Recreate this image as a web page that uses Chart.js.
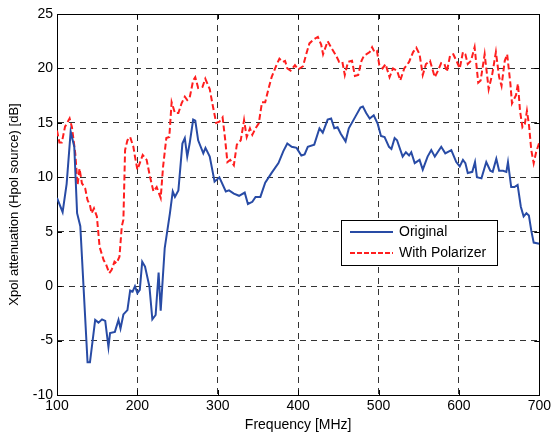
<!DOCTYPE html>
<html>
<head>
<meta charset="utf-8">
<script src="https://cdn.jsdelivr.net/npm/chart.js@4.4.1/dist/chart.umd.min.js"></script>
<style>
  html, body { margin: 0; padding: 0; background: #fff; }
  #wrap { width: 554px; height: 437px; position: relative; }
</style>
</head>
<body>
<div id="wrap"><canvas id="xpol-chart" width="554" height="437"></canvas></div>
<script>
// Original (no polarizer) curve
const origFreq = [100, 107, 112, 117, 121.5, 125, 129, 138, 141, 147.5, 151.6, 156, 160, 164, 166, 172, 176.5, 179, 182.6, 187.6,
    191, 194, 197, 200, 203, 206, 209.5, 215, 218.6, 222.7, 226.4, 229, 234, 240.5, 244, 246.7, 251, 256, 259, 262,
    265, 269.4, 272, 275.6, 282, 284.7, 290, 296, 302, 310, 314, 320, 326.5, 333.5, 337.5, 343, 347, 353, 359, 367,
    375.5, 381.6, 386.5, 392, 398, 404, 408, 412, 420, 426.5, 430.6, 436.7, 441, 445, 449, 453, 459, 463, 471, 477.5,
    480.5, 484.6, 489, 494, 499, 503, 507.5, 513, 516, 520, 523, 530, 534, 538, 540.7, 545, 551, 555, 561, 565.6,
    570, 578, 583, 590.5, 596.7, 601, 605, 608, 611, 616.6, 620, 622.4, 628, 634, 639, 642, 646.5, 650, 655, 659,
    661, 665, 669, 673, 677, 680.5, 684, 687, 690, 693, 700];
const origValues = [8.1, 6.8, 9.4, 14.2, 12.8, 6.7, 5.5, -7.0, -7.0, -3.1, -3.35, -3.05, -3.2, -5.6, -4.3, -4.2, -3.1, -3.9, -2.6, -2.2,
    -0.4, -0.5, 0.0, -0.65, -0.35, 2.25, 1.8, -0.05, -3.05, -2.65, 1.25, -2.25, 3.5, 6.7, 8.7, 8.2, 8.8, 13.1, 13.6, 11.9,
    13.1, 15.3, 15.2, 13.4, 12.2, 12.7, 11.9, 9.6, 10.0, 8.7, 8.8, 8.5, 8.3, 8.6, 7.55, 7.75, 8.2, 8.2, 9.5, 10.4,
    11.3, 12.4, 13.1, 12.8, 12.7, 12.0, 12.1, 12.8, 13.0, 14.5, 14.1, 15.3, 15.4, 14.5, 14.6, 14.0, 13.3, 14.5, 15.55, 16.4,
    16.5, 15.9, 15.4, 15.7, 14.9, 13.8, 13.7, 12.8, 12.6, 13.6, 13.4, 11.9, 12.3, 12.0, 12.3, 11.3, 11.6, 10.7, 11.9, 12.5,
    11.9, 12.8, 12.2, 12.5, 11.4, 11.0, 11.6, 11.3, 10.4, 10.5, 11.4, 10.0, 9.9, 11.4, 10.6, 10.5, 11.7, 10.6, 10.6, 10.5,
    11.4, 9.1, 9.1, 9.3, 7.3, 6.4, 6.7, 6.5, 5.1, 4.0, 3.9];

// With polarizer curve
const polFreq = [100, 103, 106, 110, 115.7, 118.6, 122.7, 125.6, 128, 131, 135, 138, 141, 143, 146, 149.6, 153, 158, 161, 165,
    168, 171.5, 174, 177.7, 180.6, 182.6, 184.7, 187.6, 191, 195, 197, 200, 203, 206.6, 211.5, 215.7, 220, 224, 229, 232,
    236, 239.7, 242.6, 246.7, 251, 255, 259, 262, 265, 269.4, 272, 275.6, 281, 284.5, 290, 294, 298, 302, 306, 309,
    312, 315.5, 320, 323.7, 328.6, 332.7, 336, 340, 343, 347, 351, 355, 359, 363, 367, 373.5, 376.7, 381, 383.7, 386.5,
    390.6, 396, 400, 406, 410, 414, 420, 424.5, 428.6, 431, 436.7, 442, 447, 451, 455, 458, 462, 467, 470.6, 474.7,
    478.8, 482, 484.6, 489, 492, 495, 498, 501, 505, 508.7, 513.7, 518, 523, 527, 532, 538, 543, 547, 551, 555,
    559, 564, 570, 574, 578, 582, 585, 589, 593, 597.5, 601, 605, 608, 611, 615, 619.5, 624, 627, 632, 637,
    641.5, 646, 650, 653, 657, 660, 664, 666, 671, 673.4, 676, 679, 682, 684.6, 687, 690, 693, 696, 700];
const polValues = [14.3, 13.2, 13.2, 14.65, 15.4, 14.6, 12.2, 9.3, 10.8, 9.45, 9.0, 7.9, 7.45, 6.7, 7.15, 6.4, 3.6, 2.4, 2.0, 1.2,
    1.5, 2.25, 2.1, 2.7, 5.5, 6.1, 12.5, 13.4, 13.7, 12.8, 11.9, 10.7, 11.3, 12.05, 11.6, 10.05, 8.7, 9.1, 8.1, 11.0,
    13.6, 13.7, 16.9, 15.9, 15.9, 16.8, 17.4, 17.1, 17.3, 18.9, 19.2, 18.2, 18.3, 19.05, 18.1, 16.5, 15.0, 15.1, 15.5, 13.6,
    11.4, 11.6, 11.1, 13.0, 13.4, 15.25, 13.7, 14.5, 13.9, 14.5, 14.95, 16.9, 16.9, 18.1, 19.2, 20.4, 20.9, 20.6, 20.7, 20.0,
    19.8, 20.3, 19.9, 20.2, 21.3, 22.3, 22.7, 22.9, 22.2, 21.3, 22.5, 21.8, 21.2, 20.6, 20.6, 19.4, 20.6, 20.7, 19.3, 19.4,
    20.7, 21.2, 21.3, 21.5, 21.95, 21.5, 21.6, 20.3, 20.0, 20.4, 19.2, 20.0, 19.8, 18.9, 20.0, 20.6, 21.5, 21.9, 21.3, 19.4,
    20.4, 20.7, 19.2, 19.8, 20.5, 20.4, 19.7, 21.2, 21.3, 20.6, 20.0, 21.5, 21.3, 20.4, 20.7, 21.95, 18.7, 18.9, 21.3, 18.1,
    19.5, 21.5, 19.2, 18.4, 20.7, 21.3, 18.6, 16.8, 17.55, 18.6, 16.1, 14.6, 14.9, 16.1, 14.9, 12.5, 11.3, 12.3, 13.2];

const xTicks = [100, 200, 300, 400, 500, 600, 700];
const yTicks = [-10, -5, 0, 5, 10, 15, 20, 25];
const seriesNames = ['Original', 'With Polarizer'];

const blue = 'rgb(40, 75, 165)';
const red = 'rgb(255, 30, 30)';
const gridColor = '#333';
const fontFamily = 'Arial, "Liberation Sans", sans-serif';

function toPoints(xs, ys) {
    return xs.map((x, i) => ({ x: x, y: ys[i] }));
}

// matlab-style legend box inside the axes
const boxLegend = {
    id: 'boxLegend',
    afterDraw(chart) {
        const ctx = chart.ctx;
        const x0 = 341, y0 = 220, w = 156, h = 45;
        ctx.save();
        ctx.fillStyle = '#fff';
        ctx.fillRect(x0, y0, w, h);
        ctx.strokeStyle = '#000';
        ctx.lineWidth = 1;
        ctx.strokeRect(x0 + 0.5, y0 + 0.5, w, h);
        const rows = [
            { name: seriesNames[0], color: blue, dash: [] },
            { name: seriesNames[1], color: red, dash: [5, 2] }
        ];
        ctx.font = '14px ' + fontFamily;
        ctx.textBaseline = 'middle';
        rows.forEach((r, i) => {
            const yy = y0 + 12 + i * 21;
            ctx.beginPath();
            ctx.setLineDash(r.dash);
            ctx.strokeStyle = r.color;
            ctx.lineWidth = 2;
            ctx.moveTo(x0 + 9, yy);
            ctx.lineTo(x0 + 52, yy);
            ctx.stroke();
            ctx.setLineDash([]);
            ctx.fillStyle = '#000';
            ctx.fillText(r.name, x0 + 58, yy);
        });
        ctx.restore();
    }
};

// solid frame plus short inward tick marks at each tick value
const frame = {
    id: 'frame',
    beforeDatasetsDraw(chart) {
        const a = chart.chartArea;
        const c = chart.ctx;
        const xs = chart.scales.x, ys = chart.scales.y;
        c.save();
        c.strokeStyle = '#000';
        c.lineWidth = 1;
        c.setLineDash([]);
        c.strokeRect(Math.round(a.left) + 0.5, Math.round(a.top) + 0.5, Math.round(a.right - a.left), Math.round(a.bottom - a.top));
        c.beginPath();
        xTicks.forEach(v => {
            const px = Math.round(xs.getPixelForValue(v)) + 0.5;
            c.moveTo(px, a.bottom); c.lineTo(px, a.bottom - 5);
            c.moveTo(px, a.top); c.lineTo(px, a.top + 5);
        });
        yTicks.forEach(v => {
            const py = Math.round(ys.getPixelForValue(v)) + 0.5;
            c.moveTo(a.left, py); c.lineTo(a.left + 5, py);
            c.moveTo(a.right, py); c.lineTo(a.right - 5, py);
        });
        c.stroke();
        c.restore();
    }
};

const ctx = document.getElementById('xpol-chart').getContext('2d');
new Chart(ctx, {
    type: 'line',
    data: {
        datasets: [
            {
                label: seriesNames[0],
                data: toPoints(origFreq, origValues),
                borderColor: blue,
                borderWidth: 2,
                pointRadius: 0,
                tension: 0,
                fill: false
            },
            {
                label: seriesNames[1],
                data: toPoints(polFreq, polValues),
                borderColor: red,
                borderWidth: 2,
                borderDash: [6, 3],
                pointRadius: 0,
                tension: 0,
                fill: false
            }
        ]
    },
    options: {
        responsive: false,
        animation: false,
        layout: { padding: { top: 14, right: 13, left: 7, bottom: 0 } },
        plugins: {
            legend: { display: false },
            tooltip: { enabled: false }
        },
        scales: {
            x: {
                type: 'linear',
                min: 100,
                max: 700,
                afterFit: s => { s.height = 42; },
                afterBuildTicks: s => { s.ticks = xTicks.map(v => ({ value: v })); },
                grid: {
                    color: gridColor,
                    lineWidth: 1,
                    drawTicks: false
                },
                border: { display: true, color: gridColor, width: 1, dash: [6, 5] },
                ticks: {
                    color: '#000',
                    padding: 3,
                    font: { family: fontFamily, size: 14 }
                },
                title: {
                    display: true,
                    text: 'Frequency [MHz]',
                    color: '#000',
                    padding: { top: 0, bottom: 3 },
                    font: { family: fontFamily, size: 14 }
                }
            },
            y: {
                type: 'linear',
                min: -10,
                max: 25,
                afterFit: s => { s.width = 50; },
                afterBuildTicks: s => { s.ticks = yTicks.map(v => ({ value: v })); },
                grid: {
                    color: gridColor,
                    lineWidth: 1,
                    drawTicks: false
                },
                border: { display: true, color: gridColor, width: 1, dash: [6, 5] },
                ticks: {
                    color: '#000',
                    padding: 4,
                    font: { family: fontFamily, size: 14 }
                },
                title: {
                    display: true,
                    text: 'Xpol attenuation (Hpol source) [dB]',
                    color: '#000',
                    padding: { top: 0, bottom: 0 },
                    font: { family: fontFamily, size: 13 }
                }
            }
        }
    },
    plugins: [boxLegend, frame]
});
</script>
</body>
</html>
